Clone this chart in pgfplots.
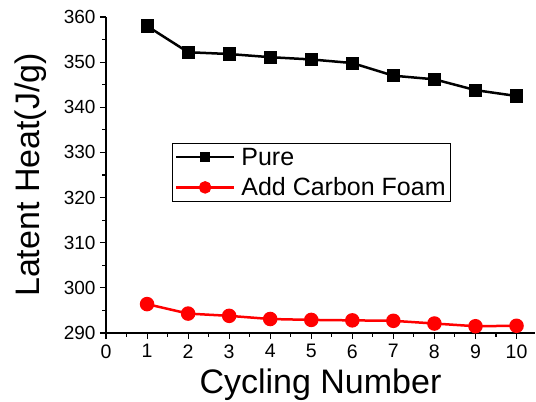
\documentclass[border=0pt]{standalone}
\usepackage{pgfplots}
\pgfplotsset{compat=1.18}
\usepackage{fontspec}
\setmainfont{Liberation Sans}
\begin{document}
\begin{tikzpicture}
\begin{axis}[
  name=ax,
  scale only axis,
  width=429pt, height=316pt,
  xmin=0, xmax=10.45, ymin=290, ymax=360,
  axis x line*=bottom, axis y line*=left,
  axis line style={line width=1.1pt,-},
  tick align=outside,
  tick style={line width=1.1pt,black},
  major tick length=6pt, minor tick length=3.5pt,
  xtick={0,1,...,10}, ytick={290,300,...,360},
  minor x tick num=1, minor y tick num=1,
  /pgf/number format/assume math mode=true,
  x tick label style={font=\fontsize{19.5}{20}\selectfont, yshift=-2pt},
  y tick label style={font=\fontsize{19}{20}\selectfont, xshift=-1pt},
  xlabel={Cycling Number},
  ylabel={Latent Heat(J/g)},
  xlabel style={font=\fontsize{34}{36}\selectfont, yshift=-4pt},
  ylabel style={font=\fontsize{34}{36}\selectfont, yshift=10pt},
  legend style={at={(0.154,0.601)}, anchor=north west, draw=black, line width=0.6pt,
    font=\fontsize{25}{27}\selectfont, row sep=7pt, inner sep=2.5pt},
  legend cell align=left,
  legend image code/.code={\draw[mark repeat=2,mark phase=2,#1] plot coordinates {(0pt,0pt)(29pt,0pt)(58pt,0pt)};},
]
\addplot[black, line width=2.5pt, mark=square*, mark size=5.3pt, mark options={solid}, forget plot]
  coordinates {(1,358.0)(2,352.2)(3,351.8)(4,351.1)(5,350.6)(6,349.8)(7,347.0)(8,346.2)(9,343.8)(10,342.5)};
\addplot[red, line width=2.5pt, mark=*, mark size=6pt, mark options={solid}, forget plot]
  coordinates {(1,296.4)(2,294.3)(3,293.8)(4,293.1)(5,292.9)(6,292.8)(7,292.7)(8,292.1)(9,291.5)(10,291.6)};
\addlegendimage{black, line width=2.5pt, mark=square*, mark size=3.6pt, mark options={solid}}
\addlegendentry{\hspace{4pt}Pure}
\addlegendimage{red, line width=2.5pt, mark=*, mark size=5pt, mark options={solid}}
\addlegendentry{\hspace{4pt}Add Carbon Foam}
\end{axis}
\pgfresetboundingbox
\path (ax.south west) ++(-106pt,-69pt) rectangle ++(536pt,402pt);
\end{tikzpicture}
\end{document}
